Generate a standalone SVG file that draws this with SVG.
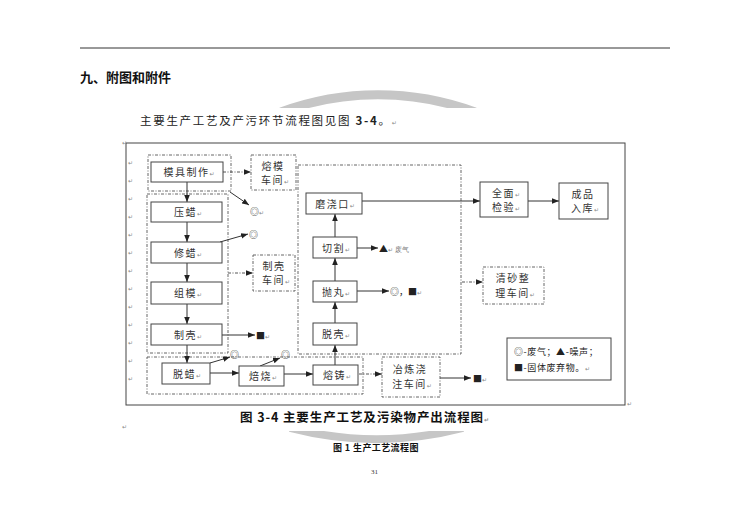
<svg xmlns="http://www.w3.org/2000/svg" width="750" height="530" viewBox="0 0 750 530">
<defs>
<style>
.t{font-family:"Noto Sans CJK SC","Noto Sans",sans-serif;font-size:10px;fill:#333;letter-spacing:1.5px}
.s{font-family:"Noto Sans CJK SC","Noto Sans",sans-serif;font-size:9px;fill:#222}
.r{font-family:"DejaVu Sans",sans-serif;font-size:6px;fill:#888;letter-spacing:0}
.box{fill:#fff;stroke:#444;stroke-width:1}
.dbox{fill:none;stroke:#555;stroke-width:0.9;stroke-dasharray:3 1.5 1 1.5}
.ln{fill:none;stroke:#333;stroke-width:1}
.dl{fill:none;stroke:#444;stroke-width:0.9;stroke-dasharray:3 1.5 1 1.5}
.arc{fill:none;stroke:#c6c6c6}
</style>
<marker id="ah" viewBox="0 0 10 10" refX="10" refY="5" markerWidth="7" markerHeight="7" orient="auto" markerUnits="userSpaceOnUse"><path d="M0,1 L10,5 L0,9 z" fill="#222"/></marker>
<clipPath id="ctop"><rect x="0" y="0" width="750" height="108"/></clipPath>
<clipPath id="cbot"><rect x="0" y="431" width="750" height="100"/></clipPath>
</defs>
<rect width="750" height="530" fill="#fff"/>

<!-- page decoration -->
<line x1="80" y1="48" x2="670" y2="48" stroke="#333" stroke-width="1"/>
<path class="arc" clip-path="url(#ctop)" d="M281,112 A282,282 0 0 1 475,112" stroke-width="9"/>
<path class="arc" clip-path="url(#cbot)" d="M290,428 A345,345 0 0 0 463,428" stroke-width="8"/>
<text x="80" y="82" style="font-family:'Noto Sans CJK SC',sans-serif;font-size:13px;font-weight:600;fill:#111">九、附图和附件</text>
<text x="140" y="125" style="font-family:'Noto Sans CJK SC',sans-serif;font-size:11.5px;fill:#222;letter-spacing:1.7px">主要生产工艺及产污环节流程图见图 <tspan font-weight="bold">3-4</tspan>。<tspan class="r">↵</tspan></text>

<!-- diagram frame -->
<rect x="126" y="143" width="499" height="262" fill="none" stroke="#444" stroke-width="1"/>
<g class="r">
<text x="122" y="145">↵</text>
<text x="128" y="165">↵</text><text x="128" y="183">↵</text><text x="128" y="201">↵</text><text x="128" y="219">↵</text>
<text x="128" y="237">↵</text><text x="128" y="255">↵</text><text x="128" y="273">↵</text><text x="128" y="291">↵</text>
<text x="128" y="309">↵</text><text x="128" y="327">↵</text><text x="128" y="345">↵</text><text x="128" y="363">↵</text>
<text x="128" y="381">↵</text>
<text x="627" y="406">↵</text>
<text x="122" y="429">↵</text>
</g>

<!-- group outlines -->
<g id="groups">
<rect class="dbox" x="148" y="155" width="83" height="36"/>
<rect class="dbox" x="147" y="194" width="81" height="159"/>
<rect class="dbox" x="147" y="357" width="216" height="37"/>
<rect class="dbox" x="298" y="165" width="163" height="189"/>
</g>

<!-- connectors -->
<g id="connectors">
<line class="ln" x1="187" y1="182" x2="187" y2="202" marker-end="url(#ah)"/>
<line class="ln" x1="187" y1="222" x2="187" y2="242" marker-end="url(#ah)"/>
<line class="ln" x1="187" y1="263" x2="187" y2="282" marker-end="url(#ah)"/>
<line class="ln" x1="187" y1="304" x2="187" y2="324" marker-end="url(#ah)"/>
<line class="ln" x1="187" y1="345" x2="187" y2="363" marker-end="url(#ah)"/>
<line class="dl" x1="223" y1="172" x2="251" y2="172" marker-end="url(#ah)"/>
<line class="ln" x1="230" y1="192" x2="249" y2="205" marker-end="url(#ah)"/>
<line class="ln" x1="220" y1="242" x2="248" y2="234" marker-end="url(#ah)"/>
<line class="dl" x1="228" y1="273" x2="253" y2="273" marker-end="url(#ah)"/>
<line class="ln" x1="222" y1="335" x2="255" y2="335" marker-end="url(#ah)"/>
<line class="ln" x1="210" y1="363" x2="230" y2="357" marker-end="url(#ah)"/>
<line class="ln" x1="260" y1="366" x2="280" y2="358" marker-end="url(#ah)"/>
<line class="ln" x1="210" y1="373" x2="239" y2="373" marker-end="url(#ah)"/>
<line class="ln" x1="284" y1="374" x2="313" y2="374" marker-end="url(#ah)"/>
<line class="dl" x1="359" y1="374" x2="382" y2="374" marker-end="url(#ah)"/>
<line class="ln" x1="440" y1="378" x2="471" y2="378" marker-end="url(#ah)"/>
<line class="ln" x1="335" y1="365" x2="335" y2="345" marker-end="url(#ah)"/>
<line class="ln" x1="335" y1="323" x2="335" y2="302" marker-end="url(#ah)"/>
<line class="ln" x1="335" y1="281" x2="335" y2="258" marker-end="url(#ah)"/>
<line class="ln" x1="335" y1="237" x2="335" y2="214" marker-end="url(#ah)"/>
<line class="ln" x1="357" y1="248" x2="378" y2="248" marker-end="url(#ah)"/>
<line class="ln" x1="357" y1="291" x2="389" y2="291" marker-end="url(#ah)"/>
<line class="ln" x1="362" y1="201" x2="480" y2="201" marker-end="url(#ah)"/>
<line class="ln" x1="528" y1="201" x2="559" y2="201" marker-end="url(#ah)"/>
<line class="dl" x1="462" y1="282" x2="483" y2="282" marker-end="url(#ah)"/>
</g>

<!-- nodes -->
<g id="n-mjzz"><rect class="box" x="151" y="162" width="72" height="20"/><text class="t" x="189" y="176" text-anchor="middle">模具制作<tspan class="r">↵</tspan></text></g>
<g id="n-yl"><rect class="box" x="151" y="202" width="71" height="20"/><text class="t" x="188" y="216" text-anchor="middle">压蜡<tspan class="r">↵</tspan></text></g>
<g id="n-xl"><rect class="box" x="151" y="242" width="71" height="21"/><text class="t" x="188" y="256.5" text-anchor="middle">修蜡<tspan class="r">↵</tspan></text></g>
<g id="n-zm"><rect class="box" x="151" y="282" width="71" height="22"/><text class="t" x="188" y="297" text-anchor="middle">组模<tspan class="r">↵</tspan></text></g>
<g id="n-zk"><rect class="box" x="151" y="324" width="71" height="21"/><text class="t" x="188" y="338.5" text-anchor="middle">制壳<tspan class="r">↵</tspan></text></g>
<g id="n-tl"><rect class="box" x="162" y="363" width="48" height="21"/><text class="t" x="187" y="377.5" text-anchor="middle">脱蜡<tspan class="r">↵</tspan></text></g>
<g id="n-bs"><rect class="box" x="239" y="366" width="45" height="20"/><text class="t" x="263" y="380" text-anchor="middle">焙烧<tspan class="r">↵</tspan></text></g>
<g id="n-rz"><rect class="box" x="313" y="365" width="45" height="20"/><text class="t" x="337" y="379" text-anchor="middle">熔铸<tspan class="r">↵</tspan></text></g>
<g id="n-mjk"><rect class="box" x="306" y="193" width="56" height="21"/><text class="t" x="335" y="207.5" text-anchor="middle">磨浇口<tspan class="r">↵</tspan></text></g>
<g id="n-qg"><rect class="box" x="313" y="237" width="44" height="21"/><text class="t" x="336" y="251.5" text-anchor="middle">切割<tspan class="r">↵</tspan></text></g>
<g id="n-pw"><rect class="box" x="313" y="281" width="44" height="21"/><text class="t" x="336" y="295.5" text-anchor="middle">抛丸<tspan class="r">↵</tspan></text></g>
<g id="n-tk"><rect class="box" x="313" y="323" width="44" height="22"/><text class="t" x="336" y="338" text-anchor="middle">脱壳<tspan class="r">↵</tspan></text></g>
<g id="n-qmjy"><rect class="box" x="480" y="182" width="48" height="35"/><text class="t" x="506" y="197" text-anchor="middle">全面<tspan class="r">↵</tspan></text><text class="t" x="506" y="211" text-anchor="middle">检验<tspan class="r">↵</tspan></text></g>
<g id="n-cprk"><rect class="box" x="559" y="183" width="49" height="36"/><text class="t" x="583" y="198" text-anchor="middle">成品</text><text class="t" x="585" y="212" text-anchor="middle">入库<tspan class="r">↵</tspan></text></g>
<g id="n-rmcj"><rect class="dbox" x="251" y="155" width="45" height="35"/><text class="t" x="273" y="170" text-anchor="middle">熔模</text><text class="t" x="275" y="184" text-anchor="middle">车间<tspan class="r">↵</tspan></text></g>
<g id="n-zkcj"><rect class="dbox" x="253" y="255" width="42" height="36"/><text class="t" x="274" y="270" text-anchor="middle">制壳</text><text class="t" x="276" y="284" text-anchor="middle">车间<tspan class="r">↵</tspan></text></g>
<g id="n-qscj"><rect class="dbox" x="483" y="267" width="61" height="37"/><text class="t" x="513" y="282" text-anchor="middle">清砂整</text><text class="t" x="515" y="297" text-anchor="middle">理车间<tspan class="r">↵</tspan></text></g>
<g id="n-yljz"><rect class="dbox" x="382" y="357" width="58" height="40"/><text class="t" x="410" y="373" text-anchor="middle">冶炼浇</text><text class="t" x="412" y="388" text-anchor="middle">注车间<tspan class="r">↵</tspan></text></g>
<g id="n-legend"><rect class="box" x="507" y="338" width="104" height="42"/><text class="s" x="514" y="355" letter-spacing="0.6">◎-废气；▲-噪声；</text><text class="s" x="514" y="371" letter-spacing="0.6">■-固体废弃物。<tspan class="r">↵</tspan></text></g>

<!-- pollutant symbols -->
<g id="symbols">
<text class="s" x="250" y="215">◎<tspan class="r">↵</tspan></text>
<text class="s" x="249" y="238" font-size="7">◎</text>
<text class="s" x="256" y="339">■<tspan class="r">↵</tspan></text>
<text class="s" x="230" y="358" font-size="7">◎</text>
<text class="s" x="281" y="358" font-size="7">◎</text>
<text class="s" x="379" y="252">▲<tspan class="r">↵</tspan><tspan style="font-family:'Liberation Serif',serif;font-size:7px;fill:#777"> 废气</tspan></text>
<text class="s" x="390" y="295">◎，■<tspan class="r">↵</tspan></text>
<text class="s" x="473" y="382">■<tspan class="r">↵</tspan></text>
</g>

<!-- captions -->
<text x="240" y="422" style="font-family:'Noto Sans CJK SC',sans-serif;font-size:12.5px;font-weight:bold;fill:#111;letter-spacing:0.9px">图 3-4 主要生产工艺及污染物产出流程图<tspan class="r">↵</tspan></text>
<text x="333" y="451" style="font-family:'Noto Sans CJK SC',sans-serif;font-size:9px;font-weight:bold;fill:#111;letter-spacing:0.4px">图 1 生产工艺流程图</text>
<text x="371" y="474" style="font-family:'Liberation Serif',serif;font-size:7px;fill:#333">31</text>
</svg>
